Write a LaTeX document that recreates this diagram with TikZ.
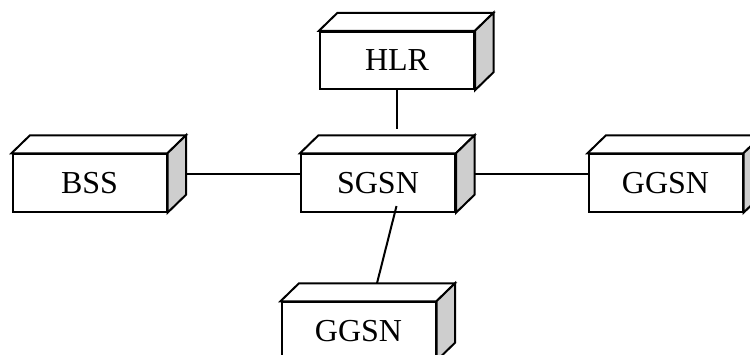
\documentclass[tikz,border=0pt]{standalone}
\usepackage{fontspec}
\setmainfont{Liberation Serif}
\usetikzlibrary{calc}
\definecolor{sidegray}{RGB}{206,206,206}
\tikzset{
  netbox/.style={draw, fill=white, line width=2pt, minimum width=154pt,
    minimum height=57.5pt, inner sep=0pt, font=\fontsize{32}{38}\selectfont},
  face/.style={line width=2pt, line join=miter},
  link/.style={line width=2pt},
}
% a network element drawn as a box: front face with label, top face, shaded side
\newcommand\netnode[3]{%
  \node[netbox] (#1) at (#2) {#3};
  \coordinate (#1-bnw) at ($(#1.north west)+(18.5,-18)$);
  \coordinate (#1-bne) at ($(#1.north east)+(18.5,-18)$);
  \coordinate (#1-bse) at ($(#1.south east)+(18.5,-18)$);
  \coordinate (#1-r) at ($(#1.east)+(18.5,-9)$);
  \filldraw[face, fill=white] (#1.north west) -- (#1-bnw) -- (#1-bne) -- (#1.north east) -- cycle;
  \filldraw[face, fill=sidegray] (#1.north east) -- (#1-bne) -- (#1-bse) -- (#1.south east) -- cycle;
}
\begin{document}
\begin{tikzpicture}[x=1pt, y=-1pt]
  \useasboundingbox (0,0) rectangle (750,354);
  \clip (0,0) rectangle (750,354);
  \netnode{hlr}{397,60.5}{HLR}
  \netnode{bss}{89.5,183}{BSS}
  \netnode{sgsn}{378,183}{SGSN}
  \netnode{ggsnr}{665.5,183}{GGSN}
  \netnode{ggsnb}{358.5,331}{GGSN}
  \coordinate (hlrtail) at (397,129);
  \coordinate (sgsntail) at (396.5,206);
  \draw[link] (hlr.south) -- (hlrtail);
  \draw[link] (bss-r) -- (bss-r -| sgsn.west);
  \draw[link] (sgsn-r) -- (sgsn-r -| ggsnr.west);
  \draw[link] (sgsntail) -- ($(ggsnb-bnw)!0.5!(ggsnb-bne)$);
\end{tikzpicture}
\end{document}
